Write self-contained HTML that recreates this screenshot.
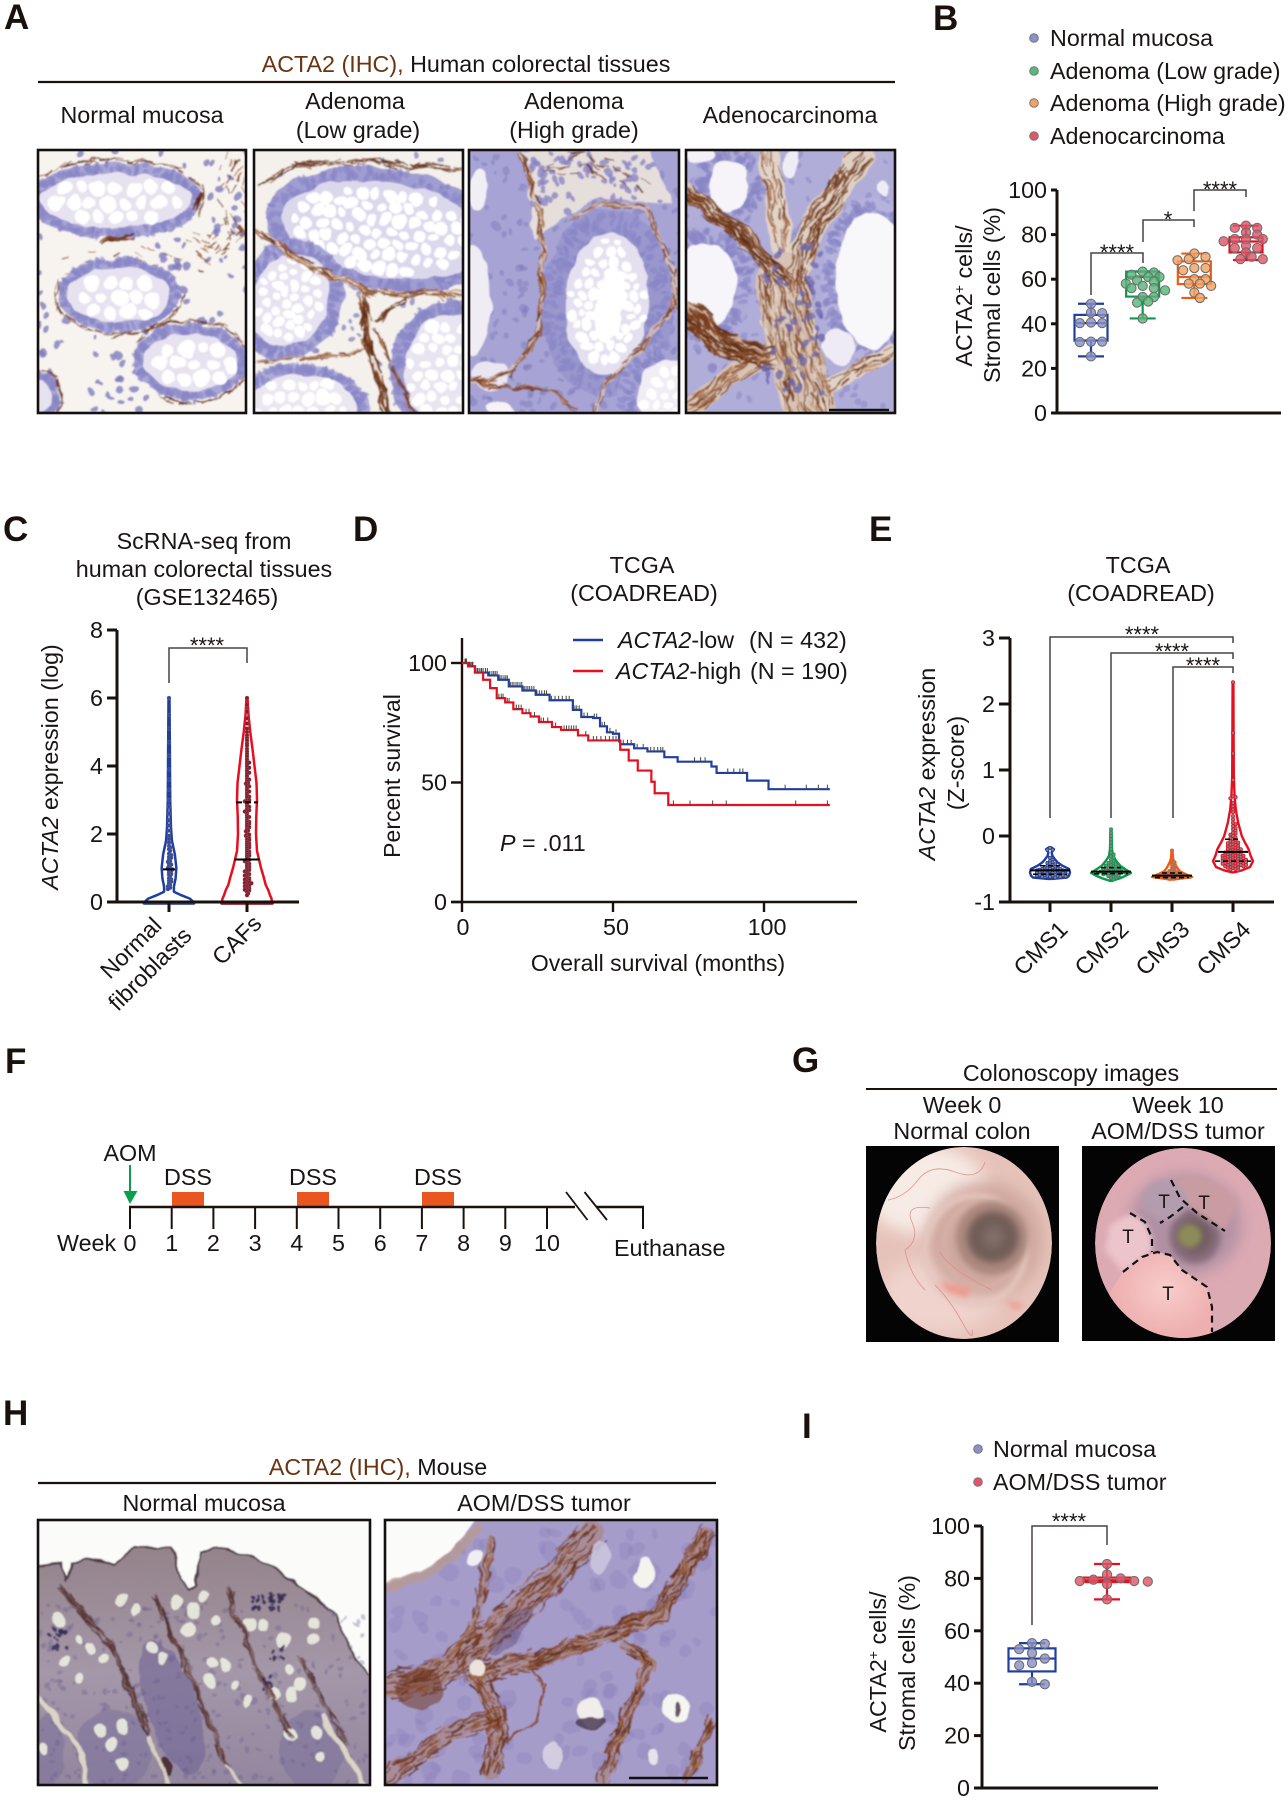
<!DOCTYPE html>
<html lang="en">
<head>
<meta charset="utf-8">
<title>ACTA2 expression figure</title>
<style>
html,body{margin:0;padding:0;background:#fff;}
svg{display:block;}
text{font-family:"Liberation Sans",Arial,sans-serif;font-size:23.3px;fill:#1a1414;}
.letter{font-size:35px;font-weight:bold;fill:#1a100c;}
.brown{fill:#6b3410;}
</style>
</head>
<body>
<svg id="fig" xmlns="http://www.w3.org/2000/svg" width="1288" height="1800" viewBox="0 0 1288 1800">
<defs>
  <filter id="organic" x="-5%" y="-5%" width="110%" height="110%">
    <feTurbulence type="fractalNoise" baseFrequency="0.05" numOctaves="2" seed="7" result="n"/>
    <feDisplacementMap in="SourceGraphic" in2="n" scale="9" xChannelSelector="R" yChannelSelector="G" result="d"/>
    <feGaussianBlur in="d" stdDeviation="0.75"/>
  </filter>
  <filter id="blur8" x="-30%" y="-30%" width="160%" height="160%"><feGaussianBlur stdDeviation="8"/></filter>
  <filter id="blur3" x="-30%" y="-30%" width="160%" height="160%"><feGaussianBlur stdDeviation="3"/></filter>
  <clipPath id="scopeL"><ellipse cx="964" cy="1243" rx="88" ry="96"/></clipPath>
  <clipPath id="scopeR"><ellipse cx="1183" cy="1243" rx="88" ry="95"/></clipPath>
  <radialGradient id="lumenL"><stop offset="0" stop-color="#86736c"/><stop offset=".7" stop-color="#6d5a54"/><stop offset="1" stop-color="#8d7069"/></radialGradient>
  <radialGradient id="lumenR"><stop offset="0" stop-color="#5d4a4e"/><stop offset="1" stop-color="#8f7483"/></radialGradient>
  <radialGradient id="tumorFill" cx=".55" cy=".4"><stop offset="0" stop-color="#f8cdca"/><stop offset="1" stop-color="#eeafb0"/></radialGradient>
  <linearGradient id="hTissue" x1="0" y1="0" x2="0" y2="1"><stop offset="0" stop-color="#94838a"/><stop offset=".5" stop-color="#a497a8"/><stop offset="1" stop-color="#91859f"/></linearGradient>
</defs>

<!-- panel letters -->
<text class="letter" x="4" y="29">A</text>
<text class="letter" x="933" y="30">B</text>
<text class="letter" x="3" y="541">C</text>
<text class="letter" x="353" y="541">D</text>
<text class="letter" x="869" y="541">E</text>
<text class="letter" x="5" y="1073">F</text>
<text class="letter" x="792" y="1072">G</text>
<text class="letter" x="3" y="1425">H</text>
<text class="letter" x="802" y="1438">I</text>

<!-- Panel A headings -->
<g>
  <text x="466" y="72" text-anchor="middle"><tspan class="brown">ACTA2 (IHC),</tspan> Human colorectal tissues</text>
  <line x1="38" x2="895" y1="82" y2="82" stroke="#1a100c" stroke-width="2.2"/>
  <text x="142" y="123" text-anchor="middle">Normal mucosa</text>
  <text x="355" y="109" text-anchor="middle">Adenoma</text>
  <text x="358" y="138" text-anchor="middle">(Low grade)</text>
  <text x="574" y="109" text-anchor="middle">Adenoma</text>
  <text x="574" y="138" text-anchor="middle">(High grade)</text>
  <text x="790" y="123" text-anchor="middle">Adenocarcinoma</text>
</g>

<!-- Panel B legend and labels -->
<g>
  <circle cx="1034" cy="38" r="4.3" fill="#8a91c9" stroke="#777"/>
  <text x="1050" y="46">Normal mucosa</text>
  <circle cx="1034" cy="71" r="4.3" fill="#57b879" stroke="#777"/>
  <text x="1050" y="79">Adenoma (Low grade)</text>
  <circle cx="1034" cy="103" r="4.3" fill="#f5a25e" stroke="#777"/>
  <text x="1050" y="111">Adenoma (High grade)</text>
  <circle cx="1034" cy="136" r="4.3" fill="#e25568" stroke="#777"/>
  <text x="1050" y="144">Adenocarcinoma</text>
</g>
<text transform="translate(972,296) rotate(-90)" text-anchor="middle">ACTA2<tspan font-size="14" dy="-8">+</tspan><tspan dy="8"> cells/</tspan></text>
<text transform="translate(1000,295) rotate(-90)" text-anchor="middle">Stromal cells (%)</text>
<g id="panelB"></g>

<!-- Panel C labels -->
<text x="204" y="549" text-anchor="middle">ScRNA-seq from</text>
<text x="204" y="577" text-anchor="middle">human colorectal tissues</text>
<text x="207" y="605" text-anchor="middle">(GSE132465)</text>
<text transform="translate(58,767) rotate(-90)" text-anchor="middle"><tspan font-style="italic">ACTA2</tspan> expression (log)</text>
<text transform="translate(163,927) rotate(-45)" text-anchor="end">Normal</text>
<text transform="translate(193,937) rotate(-45)" text-anchor="end">fibroblasts</text>
<text transform="translate(263,925) rotate(-45)" text-anchor="end">CAFs</text>
<g id="panelC"></g>

<!-- Panel D labels -->
<text x="642" y="573" text-anchor="middle">TCGA</text>
<text x="644" y="601" text-anchor="middle">(COADREAD)</text>
<text transform="translate(400,776) rotate(-90)" text-anchor="middle" style="font-size:23px">Percent survival</text>
<text x="658" y="971" text-anchor="middle" style="font-size:23px">Overall survival (months)</text>
<text x="500" y="851"><tspan font-style="italic">P</tspan> = .011</text>
<g>
  <line x1="573" x2="603" y1="640" y2="640" stroke="#1f3f9e" stroke-width="2.4"/>
  <text x="618" y="648"><tspan font-style="italic">ACTA2</tspan>-low</text>
  <text x="749" y="648">(N = 432)</text>
  <line x1="573" x2="603" y1="671" y2="671" stroke="#e60f1f" stroke-width="2.4"/>
  <text x="616" y="679"><tspan font-style="italic">ACTA2</tspan>-high</text>
  <text x="750" y="679">(N = 190)</text>
</g>
<g id="panelD"></g>

<!-- Panel E labels -->
<text x="1138" y="573" text-anchor="middle">TCGA</text>
<text x="1141" y="601" text-anchor="middle">(COADREAD)</text>
<text transform="translate(935,764) rotate(-90)" text-anchor="middle"><tspan font-style="italic">ACTA2</tspan> expression</text>
<text transform="translate(964,763) rotate(-90)" text-anchor="middle">(Z-score)</text>
<g id="panelE"></g>

<!-- Panel F timeline -->
<g>
  <text x="130" y="1161" text-anchor="middle">AOM</text>
  <line x1="130" x2="130" y1="1165" y2="1194" stroke="#0b9e4b" stroke-width="2"/>
  <polygon points="123.5,1191 137.5,1191 130,1204" fill="#0b9e4b"/>
  <rect x="172" y="1192" width="32" height="14" fill="#e9561f"/>
  <rect x="297" y="1192" width="32" height="14" fill="#e9561f"/>
  <rect x="422" y="1192" width="32" height="14" fill="#e9561f"/>
  <text x="188" y="1185" text-anchor="middle">DSS</text>
  <text x="313" y="1185" text-anchor="middle">DSS</text>
  <text x="438" y="1185" text-anchor="middle">DSS</text>
  <line x1="129" x2="575" y1="1207" y2="1207" stroke="#1a100c" stroke-width="2.4"/>
  <line x1="596" x2="644" y1="1207" y2="1207" stroke="#1a100c" stroke-width="2.4"/>
  <line x1="566" x2="587.5" y1="1192" y2="1220" stroke="#1a100c" stroke-width="1.8"/>
  <line x1="584.5" x2="607" y1="1192" y2="1220" stroke="#1a100c" stroke-width="1.8"/>
  <line x1="643" x2="643" y1="1207" y2="1229" stroke="#1a100c" stroke-width="2"/>
  <text x="57" y="1251">Week</text>
  <text x="614" y="1256">Euthanase</text>
  <g id="weeks"></g>
</g>

<!-- Panel G headings -->
<text x="1071" y="1081" text-anchor="middle">Colonoscopy images</text>
<line x1="866" x2="1277" y1="1089" y2="1089" stroke="#1a100c" stroke-width="2"/>
<text x="962" y="1113" text-anchor="middle">Week 0</text>
<text x="962" y="1139" text-anchor="middle">Normal colon</text>
<text x="1178" y="1113" text-anchor="middle">Week 10</text>
<text x="1178" y="1139" text-anchor="middle">AOM/DSS tumor</text>

<!-- Colonoscopy left -->
<g>
  <rect x="866" y="1146" width="193" height="196" fill="#050404"/>
  <g clip-path="url(#scopeL)">
    <ellipse cx="964" cy="1243" rx="88" ry="96" fill="#e6c3ba"/>
    <ellipse cx="925" cy="1190" rx="62" ry="44" fill="#f7ebe6" filter="url(#blur8)"/>
    <ellipse cx="940" cy="1295" rx="60" ry="38" fill="#efd3cc" filter="url(#blur8)"/>
    <ellipse cx="985" cy="1240" rx="58" ry="58" fill="#cfa79e" filter="url(#blur8)"/>
    <ellipse cx="975" cy="1250" rx="50" ry="54" fill="none" stroke="#e6c8c0" stroke-width="6" filter="url(#blur3)"/>
    <ellipse cx="982" cy="1245" rx="38" ry="42" fill="none" stroke="#d7b2a8" stroke-width="5" filter="url(#blur3)"/>
    <ellipse cx="992" cy="1238" rx="36" ry="37" fill="#ab887e" filter="url(#blur3)"/>
    <circle cx="993" cy="1237" r="27" fill="url(#lumenL)" filter="url(#blur3)"/>
    <g fill="none" stroke="#dc8f8a" stroke-width="0.9" opacity=".85">
      <path d="M888 1200 Q905 1197 918 1180 T955 1172 T985 1162"/>
      <path d="M905 1250 Q920 1240 912 1222 T930 1208"/>
      <path d="M905 1250 Q910 1275 925 1290"/>
      <path d="M935 1285 Q950 1300 962 1322 T972 1330"/>
      <path d="M940 1252 Q950 1270 992 1290"/>
    </g>
    <path d="M938 1282 L972 1288 L966 1298 L948 1292 Z" fill="#ee9a90" filter="url(#blur3)"/>
    <path d="M1005 1300 L1025 1305 L1015 1310 Z" fill="#ee9a90" filter="url(#blur3)"/>
  </g>
</g>

<!-- Colonoscopy right -->
<g>
  <rect x="1082" y="1146" width="193" height="195" fill="#050404"/>
  <g clip-path="url(#scopeR)">
    <ellipse cx="1183" cy="1243" rx="88" ry="95" fill="#dcaab3"/>
    <ellipse cx="1185" cy="1225" rx="56" ry="50" fill="#b290a4" filter="url(#blur8)"/>
    <ellipse cx="1195" cy="1236" rx="26" ry="28" fill="url(#lumenR)" filter="url(#blur3)"/>
    <path d="M1171 1180 L1180 1198 L1197 1213 L1225 1231 L1240 1200 L1200 1175 Z" fill="#c99ca2" filter="url(#blur3)"/>
    <ellipse cx="1164" cy="1200" rx="22" ry="20" fill="#b39cad" filter="url(#blur3)"/>
    <ellipse cx="1190" cy="1236" rx="12" ry="12" fill="#8d8c58" filter="url(#blur3)"/>
    <path d="M1130 1213 L1145 1222 L1152 1238 L1152 1252 L1123 1272 L1105 1250 L1110 1225 Z" fill="#ecc4cb" filter="url(#blur3)"/>
    <path d="M1123 1272 L1142 1257 L1157 1252 L1170 1255 L1182 1270 L1207 1287 L1212 1307 L1212 1340 L1175 1345 L1130 1325 L1108 1295 Z" fill="url(#tumorFill)"/>
  </g>
  <g fill="none" stroke="#111" stroke-width="2.2" stroke-dasharray="7 5">
    <path d="M1171 1180 L1180 1198 L1197 1213 L1225 1231"/>
    <path d="M1183 1207 L1170 1217 L1160 1223"/>
    <path d="M1130 1213 L1145 1222 L1152 1238 L1152 1252"/>
    <path d="M1123 1272 L1142 1257 L1157 1252 L1170 1255 L1182 1270 L1207 1287 L1212 1307 L1212 1332"/>
  </g>
  <text x="1164" y="1208" text-anchor="middle" style="font-size:19px">T</text>
  <text x="1204" y="1209" text-anchor="middle" style="font-size:19px">T</text>
  <text x="1128" y="1243" text-anchor="middle" style="font-size:19px">T</text>
  <text x="1168" y="1300" text-anchor="middle" style="font-size:19px">T</text>
</g>

<!-- Panel H headings -->
<text x="378" y="1475" text-anchor="middle"><tspan class="brown">ACTA2 (IHC),</tspan> Mouse</text>
<line x1="38" x2="716" y1="1483" y2="1483" stroke="#1a100c" stroke-width="2.2"/>
<text x="204" y="1511" text-anchor="middle">Normal mucosa</text>
<text x="544" y="1511" text-anchor="middle">AOM/DSS tumor</text>

<!-- Panel I legend and labels -->
<g>
  <circle cx="978" cy="1449" r="4.3" fill="#8a91c9" stroke="#777"/>
  <text x="993" y="1457">Normal mucosa</text>
  <circle cx="978" cy="1482" r="4.3" fill="#e25568" stroke="#777"/>
  <text x="993" y="1490">AOM/DSS tumor</text>
</g>
<text transform="translate(886,1662) rotate(-90)" text-anchor="middle">ACTA2<tspan font-size="14" dy="-8">+</tspan><tspan dy="8"> cells/</tspan></text>
<text transform="translate(915,1663) rotate(-90)" text-anchor="middle">Stromal cells (%)</text>
<g id="panelI"></g>

<g id="histology"></g>
</svg>

<script>
/* ---------- Panel B data ---------- */
const bGroups = ['Normal mucosa','Adenoma low','Adenoma high','Adenocarcinoma'];
const bTicks = [0,20,40,60,80,100];
const bTickLabels = ['0','20','40','60','80','100'];
const bWhiskerLow = [25.4,42.4,51.6,68.6];
const bQ1 = [32.5,52.2,57.8,72];
const bMedian = [40.3,61,61,76.9];
const bQ3 = [44,63.4,68,78.8];
const bWhiskerHigh = [49,63.5,71.5,84];
const bPointsNormal = [49,44.8,45,40.3,40.3,40.6,32,32,31.8,25.4];
const bPointsLow = [63.4,63,62,61,61,59.5,59,58,57,56,56,55,52,52,50,49.5,42.4];
const bPointsHigh = [71.5,70,69,68.5,65,65,64,60,60,58,58,57,54,51.6];
const bPointsCarcinoma = [84,83,83,81,80,78,78,78,77,75,74,74,72,70,69,69];

/* ---------- Panel C data ---------- */
const cTicks = [0,2,4,6,8];
const cTickLabels = ['0','2','4','6','8'];
const cFibroLevels = [0,0.1,0.2,0.3,0.45,0.7,1,1.4,1.8,2.2,3,4,5,6];
const cFibroDensity = [1,0.85,0.5,0.2,0.2,0.27,0.3,0.24,0.12,0.08,0.05,0.04,0.03,0.02];
const cCafLevels = [0,0.1,0.2,0.35,0.5,0.75,1,1.5,2,2.5,3,3.5,4,4.5,5,5.5,6];
const cCafDensity = [1,0.98,0.92,0.85,0.75,0.66,0.56,0.4,0.36,0.37,0.4,0.38,0.3,0.22,0.13,0.06,0.02];
const cFibroPoints = [6,5.5,5.1,4.7,4.3,3.9,3.6,3.3,3,2.8,2.6,2.4,2.25,2.1,1.95,1.85,1.75,1.65,1.6,1.55,1.5,1.42,1.38,1.32,1.3,1.25,1.2,1.18,1.12,1.1,1.05,1,1,0.96,0.92,0.9,0.86,0.82,0.8,0.75,0.7,0.66,0.62,0.6,0.55,0.5,0.46,0.42,0.38];
const cCafPoints = [6,5.8,5.6,5.4,5.25,5.1,5,4.9,4.82,4.75,4.66,4.6,4.5,4.42,4.35,4.28,4.2,4.12,4.05,3.98,3.9,3.84,3.76,3.7,3.62,3.55,3.48,3.42,3.35,3.28,3.2,3.14,3.08,3,2.94,2.88,2.8,2.74,2.68,2.6,2.54,2.48,2.4,2.34,2.28,2.2,2.15,2.08,2,1.95,1.88,1.82,1.76,1.7,1.64,1.58,1.52,1.46,1.4,1.34,1.28,1.22,1.16,1.1,1.04,0.98,0.92,0.86,0.8,0.74,0.7,0.64,0.6,0.56,0.5,0.46,0.4,0.36,0.3,0.25,0.2,4.1,3.95,3.8,3.6,3.4,3.25,3.1,2.96,2.82,2.66,2.5,2.36,2.22,2.1,1.98,1.84,1.72,1.6,1.48,1.36,1.24,1.12,1,0.9,0.78,0.66,0.55,0.44,0.34,3.5,3,2.7,2.3,1.9,1.66,1.42,1.2,1.06,0.94,0.82,0.68,0.58,0.48,0.38];
const cMedians = [0.96,1.25];
const cUpperQuartiles = [null,2.93];
const cZeroCounts = [14,14];

/* ---------- Panel D data ---------- */
const dYTicks = [0,50,100];
const dYLabels = ['0','50','100'];
const dXTicks = [0,50,100];
const dXLabels = ['0','50','100'];
const dLowTime = [0,2,4.3,8.7,12,15.5,20,24.4,29,36.7,39.5,43.4,45.7,48,50,52,52.4,57,61.4,67,71.4,82.6,84.3,94.4,101.5];
const dLowSurvival = [100,98.6,96,94.8,93,90.2,88.5,86.7,84.4,80.4,77.4,77,73.5,71,70.4,67.2,66,64.3,63,60.6,58.7,56.7,54,50.8,47.2];
const dHighTime = [0,2,4.3,7,9.3,11.5,14.3,17,20,22.7,25.5,29.8,32.8,38.4,41.8,52.4,55.2,58.2,62.7,63.8,68.3];
const dHighSurvival = [100,98.6,96,93,89.5,85.3,83.5,80.7,79,77.6,75.3,73.2,72,69.7,67.6,63.7,59.2,55,50.3,45.5,40.6];
const dEndTime = 121.8;
const dLowCensor = [1,1.5,2.5,3,3.6,5,5.7,6.3,7,7.8,8.4,9.2,9.9,10.5,11,11.6,12.6,13.2,13.9,14.5,15,16,16.6,17.2,17.9,18.5,19.2,19.8,20.6,21.2,21.8,22.4,23.1,23.8,24.8,25.6,26.4,27.3,28,29.6,30.8,32,33.2,34.5,35.5,37.4,38,38.8,40.4,41.5,43.8,44.6,46.4,47.2,49,51,53.4,54.8,56,58,60,62.5,63.6,64.8,65.8,66.5,77,79,80.5,88,90,92,93,107,114,118,121];
const dHighCensor = [1.2,2.6,3.4,5.2,6.5,12.2,13,13.6,15,15.6,18,18.8,19.6,21.2,22.2,24,26.2,27,28.4,31,33.8,34.6,35.4,36.2,37,37.8,41,43.5,44.6,46,47.5,48.8,50,51,70,75.5,83,87.5,110.5,121];

/* ---------- Panel E data ---------- */
const eCategories = ['CMS1','CMS2','CMS3','CMS4'];
const eTicks = [-1,0,1,2,3];
const eTickLabels = ['-1','0','1','2','3'];
const eLevels1 = [-0.65,-0.63,-0.6,-0.55,-0.5,-0.45,-0.4,-0.35,-0.3,-0.25,-0.2,-0.17];
const eDensity1 = [0.1,0.85,0.95,1,0.95,0.62,0.38,0.24,0.12,0.08,0.2,0.05];
const eLevels2 = [-0.68,-0.64,-0.6,-0.56,-0.5,-0.45,-0.4,-0.35,-0.3,-0.2,-0.1,0.1];
const eDensity2 = [0.05,0.45,0.75,1,0.7,0.46,0.32,0.2,0.1,0.05,0.04,0.02];
const eLevels3 = [-0.66,-0.64,-0.62,-0.58,-0.54,-0.5,-0.45,-0.4,-0.35,-0.3,-0.22];
const eDensity3 = [0.08,0.55,1,0.7,0.42,0.3,0.2,0.12,0.06,0.04,0.02];
const eLevels4 = [-0.55,-0.52,-0.47,-0.38,-0.3,-0.2,-0.1,0,0.1,0.2,0.4,0.6,0.9,1.5,2.33];
const eDensity4 = [0.05,0.45,0.85,1,0.88,0.78,0.6,0.44,0.35,0.26,0.14,0.08,0.04,0.03,0.02];
const ePoints1 = [-0.18,-0.21,-0.21,-0.33,-0.36,-0.38,-0.4,-0.41,-0.42,-0.43,-0.44,-0.45,-0.46,-0.47,-0.47,-0.48,-0.49,-0.49,-0.5,-0.5,-0.51,-0.51,-0.52,-0.52,-0.53,-0.53,-0.54,-0.54,-0.55,-0.55,-0.56,-0.56,-0.57,-0.57,-0.58,-0.58,-0.59,-0.59,-0.6,-0.6,-0.61,-0.61,-0.62,-0.62,-0.63,-0.5,-0.52,-0.54,-0.56,-0.58,-0.6,-0.62,-0.51,-0.53,-0.55,-0.57,-0.59,-0.61];
const ePoints2 = [0.1,0.05,0,-0.05,-0.1,-0.15,-0.2,-0.25,-0.28,-0.31,-0.33,-0.36,-0.38,-0.4,-0.41,-0.42,-0.43,-0.44,-0.45,-0.45,-0.46,-0.47,-0.48,-0.48,-0.49,-0.49,-0.5,-0.5,-0.51,-0.51,-0.52,-0.52,-0.53,-0.53,-0.54,-0.54,-0.54,-0.55,-0.55,-0.55,-0.56,-0.56,-0.56,-0.57,-0.57,-0.57,-0.58,-0.58,-0.59,-0.6,-0.6,-0.61,-0.62,-0.63,-0.64,-0.66];
const ePoints3 = [-0.22,-0.38,-0.4,-0.43,-0.46,-0.48,-0.5,-0.52,-0.53,-0.54,-0.55,-0.56,-0.56,-0.57,-0.58,-0.58,-0.59,-0.59,-0.59,-0.6,-0.6,-0.6,-0.61,-0.61,-0.61,-0.61,-0.62,-0.62,-0.62,-0.62,-0.63,-0.63,-0.63,-0.64,-0.64,-0.65];
const ePoints4 = [2.33,1.56,1.25,0.85,0.6,0.59,0.57,0.5,0.45,0.4,0.36,0.3,0.25,0.2,0.18,0.15,0.12,0.1,0.08,0.05,0.04,0.02,0,-0.02,-0.03,-0.05,-0.06,-0.08,-0.09,-0.1,-0.11,-0.13,-0.14,-0.15,-0.16,-0.17,-0.18,-0.19,-0.2,-0.2,-0.21,-0.22,-0.23,-0.24,-0.24,-0.25,-0.26,-0.27,-0.27,-0.28,-0.29,-0.29,-0.3,-0.3,-0.31,-0.31,-0.32,-0.33,-0.33,-0.34,-0.34,-0.35,-0.35,-0.36,-0.36,-0.37,-0.37,-0.38,-0.38,-0.39,-0.39,-0.4,-0.4,-0.41,-0.41,-0.42,-0.42,-0.43,-0.43,-0.44,-0.44,-0.45,-0.46,-0.46,-0.47,-0.48,-0.49,-0.5,-0.51,-0.52,-0.1,-0.14,-0.18,-0.22,-0.25,-0.28,-0.3,-0.32,-0.34,-0.36,-0.38,-0.4,-0.42,-0.44,-0.46,-0.48];
const eMedians = [-0.52,-0.54,-0.6,-0.24];
const eLowerQuartiles = [-0.58,-0.57,-0.63,-0.38];
const eUpperQuartiles = [-0.45,-0.48,-0.56,-0.05];

/* ---------- Panel F data ---------- */
const fWeeks = ['0','1','2','3','4','5','6','7','8','9','10'];

/* ---------- Panel I data ---------- */
const iTicks = [0,20,40,60,80,100];
const iTickLabels = ['0','20','40','60','80','100'];
const iWhiskerLow = [39.6,72];
const iQ1 = [44.5,78.6];
const iMedian = [49.4,79.3];
const iQ3 = [53.3,80.3];
const iWhiskerHigh = [55.3,85.5];
const iPointsNormal = [55.3,55,53,51.5,49.4,47.7,46.8,40.5,39.6];
const iPointsTumor = [85.5,81.5,80,79.5,79,79,78.8,77.8,72];

/* ---------- helpers ---------- */
const NS = 'http://www.w3.org/2000/svg';
function mk(tag, parent, attrs) {
  const e = document.createElementNS(NS, tag);
  for (const k in attrs) e.setAttribute(k, attrs[k]);
  parent.appendChild(e);
  return e;
}
function linear(d0, d1, r0, r1) { return v => r0 + (v - d0) * (r1 - r0) / (d1 - d0); }
const AXIS = '#1a100c';

function drawAxes(g, o) {
  const yLine = mk('line', g, {x1:o.x0, x2:o.x0, y1:o.yTop, y2:o.yBottom + 1.5, stroke:AXIS, 'stroke-width':o.sw || 3});
  
  
  const xLine = mk('line', g, {x1:o.xLeft, x2:o.x1, y1:o.yBottom, y2:o.yBottom, stroke:AXIS, 'stroke-width':o.sw || 3});
  
  
  o.ticks.forEach((t, i) => {
    const tick = mk('line', g, {x1:o.tickX, x2:o.x0, y1:o.y(t), y2:o.y(t), stroke:AXIS, 'stroke-width':o.sw || 3});
    
    
    const lab = mk('text', g, {x:o.tickX - 4, y:o.y(t) + 8, 'text-anchor':'end'});
    
    
    lab.textContent = o.labels[i];
  });
}
function bracket(g, xa, ya, yTop, xb, yb) {
  const p = mk('path', g, {d:`M${xa} ${ya} V${yTop} H${xb} V${yb}`, fill:'none', stroke:'#4a4040', 'stroke-width':1.5});
  
  
}
function stars(g, x, y, s) {
  const t = mk('text', g, {x:x, y:y + 13, 'text-anchor':'middle', style:'font-size:22px'});
  
  
  t.textContent = s;
}
function swarm(vals, y, minDist, step) {
  const placed = [];
  vals.slice().sort((a, b) => b - a).forEach(v => {
    const py = y(v);
    let k = 0, done = false;
    while (!done) {
      const cands = k === 0 ? [0] : [k * step, -k * step];
      for (const c of cands) {
        if (placed.every(p => Math.hypot(p.x - c, p.y - py) >= minDist)) {
          placed.push({x:c, y:py});
          done = true;
          break;
        }
      }
      k++;
    }
  });
  return placed;
}
function boxPlot(g, xc, w, capW, y, low, q1, med, q3, high, color, pts, fill, r, minDist, step) {
  const whisker = mk('line', g, {x1:xc, x2:xc, y1:y(low), y2:y(high), stroke:color, 'stroke-width':2.2});
  
  
  const capLow = mk('line', g, {x1:xc - capW, x2:xc + capW, y1:y(low), y2:y(low), stroke:color, 'stroke-width':2.2});
  
  
  const capHigh = mk('line', g, {x1:xc - capW, x2:xc + capW, y1:y(high), y2:y(high), stroke:color, 'stroke-width':2.2});
  
  
  const box = mk('rect', g, {x:xc - w / 2, y:y(q3), width:w, height:y(q1) - y(q3), fill:'#fff', stroke:color, 'stroke-width':2.2});
  
  
  const m = mk('line', g, {x1:xc - w / 2, x2:xc + w / 2, y1:y(med), y2:y(med), stroke:color, 'stroke-width':2.2});
  
  
  swarm(pts, y, minDist, step).forEach(p => {
    const c = mk('circle', g, {cx:xc + p.x, cy:p.y, r:r, fill:fill, 'fill-opacity':0.82, stroke:'#6f6f6f', 'stroke-width':1.1});
    
    
  });
}
function violinPath(xc, y, levels, dens, maxHalf) {
  const right = levels.map((l, i) => `${xc + dens[i] * maxHalf} ${y(l)}`);
  const left = levels.map((l, i) => `${xc - dens[i] * maxHalf} ${y(l)}`).reverse();
  return 'M' + right.join(' L') + ' L' + left.join(' L') + ' Z';
}
function hline(g, xc, half, yy, color, sw, dash, name) {
  const l = mk('line', g, {x1:xc - half, x2:xc + half, y1:yy, y2:yy, stroke:color, 'stroke-width':sw});
  if (dash) l.setAttribute('stroke-dasharray', dash);
  
  
}
function xTick(g, x, y0, y1, label, w) {
  const t = mk('line', g, {x1:x, x2:x, y1:y0, y2:y1, stroke:AXIS, 'stroke-width':w || 3});
  
  
}

/* ---------- Panel B ---------- */
(function () {
  const g = document.getElementById('panelB');
  const y = linear(0, 100, 413, 190);
  const xs = linear(0, 3, 1091, 1246);
  drawAxes(g, {x0:1057, x1:1281, xLeft:1051, yTop:190, yBottom:413, tickX:1051, y:y, ticks:bTicks, labels:bTickLabels});
  const cols = ['#1f3f9e','#0a9a4a','#f05a14','#e60f1f'];
  const fills = ['#8a91c9','#57b879','#f5a25e','#e25568'];
  const sets = [bPointsNormal,bPointsLow,bPointsHigh,bPointsCarcinoma];
  bGroups.forEach((name, i) => {
    boxPlot(g, xs(i), 33, 13, y, bWhiskerLow[i], bQ1[i], bMedian[i], bQ3[i], bWhiskerHigh[i], cols[i], sets[i], fills[i], 4.6, 6.6, 5.6);
  });
  bracket(g, 1091, 295, 253, 1143, 263);
  stars(g, 1117, 247, '****');
  bracket(g, 1143, 242, 220, 1194, 227);
  stars(g, 1168, 214, '*');
  bracket(g, 1194, 211, 190, 1246, 197);
  stars(g, 1220, 184, '****');
})();

/* ---------- Panel C ---------- */
(function () {
  const g = document.getElementById('panelC');
  const y = linear(0, 8, 902, 630);
  const xs = [169, 247];
  const cols = ['#1f3f9e','#e60f1f'];
  const dotFill = ['#33499f','#8d1a2a'];
  const sets = [cFibroPoints,cCafPoints];
  [0,1].forEach(i => {
    const levels = i ? cCafLevels : cFibroLevels;
    const dens = i ? cCafDensity : cFibroDensity;
    const half = i ? 25 : 24.5;
    const v = mk('path', g, {d:violinPath(xs[i], y, levels, dens, half), fill:'none', stroke:cols[i], 'stroke-width':2.5, 'stroke-linejoin':'round'});
    
    
    swarm(sets[i], y, 1.8, 1.1).forEach(p => {
      const c = mk('circle', g, {cx:xs[i] + p.x, cy:p.y, r:2, fill:dotFill[i], stroke:'#777', 'stroke-width':0.3});
      
      
    });
    for (let k = -cZeroCounts[i]; k <= cZeroCounts[i]; k++) {
      const c = mk('circle', g, {cx:xs[i] + k * half / cZeroCounts[i], cy:y(0) + 1, r:1.9, fill:dotFill[i]});
      
      
    }
    hline(g, xs[i], i ? 12.5 : 6, y(cMedians[i]), '#000', 2, null, 'violin-median');
    if (cUpperQuartiles[i] !== null) hline(g, xs[i], 11, y(cUpperQuartiles[i]), '#000', 2, '6 3', 'violin-quartile');
    xTick(g, xs[i], 902, 912);
  });
  drawAxes(g, {x0:117, x1:299, xLeft:107, yTop:630, yBottom:902, tickX:107, y:y, ticks:cTicks, labels:cTickLabels});
  bracket(g, 169, 683, 648, 247, 663);
  stars(g, 207, 640, '****');
})();

/* ---------- Panel D ---------- */
(function () {
  const g = document.getElementById('panelD');
  const y = linear(0, 100, 902, 663);
  const x = linear(0, 100, 462, 764);
  drawAxes(g, {x0:462, x1:857, xLeft:451, yTop:638, yBottom:902, tickX:451, y:y, ticks:dYTicks, labels:dYLabels, sw:2.4});
  dXTicks.forEach((t, i) => {
    xTick(g, x(t), 902, 912, null, 2.4);
    const lab = mk('text', g, {x:x(t) + (i ? 3 : 1), y:935, 'text-anchor':'middle'});
    
    
    lab.textContent = dXLabels[i];
  });
  function stepValue(ts, ss, t) {
    let s = ss[0];
    for (let i = 0; i < ts.length; i++) if (ts[i] <= t) s = ss[i];
    return s;
  }
  function curve(ts, ss, color, name) {
    let d = `M${x(ts[0])} ${y(ss[0])}`;
    for (let i = 1; i < ts.length; i++) d += ` H${x(ts[i])} V${y(ss[i])}`;
    d += ` H${x(dEndTime)}`;
    const p = mk('path', g, {d:d, fill:'none', stroke:color, 'stroke-width':2.2});
    
    
  }
  function censor(ts, ss, arr) {
    arr.forEach(t => {
      const s = stepValue(ts, ss, t);
      const l = mk('line', g, {x1:x(t), x2:x(t), y1:y(s) - 4.5, y2:y(s), stroke:'#444', 'stroke-width':1});
      
      
    });
  }
  curve(dLowTime, dLowSurvival, '#1f3f9e', 'survival-curve-low');
  curve(dHighTime, dHighSurvival, '#e60f1f', 'survival-curve-high');
  censor(dLowTime, dLowSurvival, dLowCensor);
  censor(dHighTime, dHighSurvival, dHighCensor);
})();

/* ---------- Panel E ---------- */
(function () {
  const g = document.getElementById('panelE');
  const y = linear(-1, 3, 902, 638);
  const x = linear(0, 3, 1050, 1233);
  const cols = ['#1f3f9e','#0a9a4a','#f05a14','#e60f1f'];
  const levels = [eLevels1,eLevels2,eLevels3,eLevels4];
  const dens = [eDensity1,eDensity2,eDensity3,eDensity4];
  const sets = [ePoints1,ePoints2,ePoints3,ePoints4];
  eCategories.forEach((name, i) => {
    const xc = x(i);
    const v = mk('path', g, {d:violinPath(xc, y, levels[i], dens[i], 20), fill:'#fff', stroke:cols[i], 'stroke-width':2.4, 'stroke-linejoin':'round'});
    
    
    swarm(sets[i], y, 2.4, 1.3).forEach(p => {
      const c = mk('circle', g, {cx:xc + p.x, cy:p.y, r:1.6, fill:'#8c8288', stroke:cols[i], 'stroke-width':0.8});
      
      
    });
    hline(g, xc, i === 3 ? 15 : 20, y(eMedians[i]), '#000', 2, null, 'violin-median');
    hline(g, xc, i === 3 ? 18 : 17, y(eLowerQuartiles[i]), '#000', 1.5, '5 3', 'violin-quartile-low');
    hline(g, xc, i === 3 ? 8 : 10, y(eUpperQuartiles[i]), '#000', 1.5, '5 3', 'violin-quartile-high');
    xTick(g, xc, 902, 912);
    const lab = mk('text', g, {transform:`translate(${xc + 19},${931}) rotate(-45)`, 'text-anchor':'end'});
    
    
    lab.textContent = name;
  });
  drawAxes(g, {x0:1010, x1:1274, xLeft:999, yTop:638, yBottom:902, tickX:999, y:y, ticks:eTicks, labels:eTickLabels});
  bracket(g, 1050, 818, 637, 1233, 643);
  stars(g, 1142, 629, '****');
  bracket(g, 1111, 818, 653, 1233, 659);
  stars(g, 1172, 646, '****');
  bracket(g, 1173, 818, 667, 1233, 673);
  stars(g, 1203, 660, '****');
})();

/* ---------- Panel F ---------- */
(function () {
  const g = document.getElementById('weeks');
  const x = linear(0, 10, 130, 547);
  fWeeks.forEach((w, i) => {
    const t = mk('line', g, {x1:x(i), x2:x(i), y1:1207, y2:1229, stroke:AXIS, 'stroke-width':2});
    
    
    const lab = mk('text', g, {x:x(i), y:1251, 'text-anchor':'middle'});
    
    
    lab.textContent = w;
  });
})();

/* ---------- Panel I ---------- */
(function () {
  const g = document.getElementById('panelI');
  const y = linear(0, 100, 1788, 1526);
  const xs = [1032, 1107];
  drawAxes(g, {x0:982, x1:1158, xLeft:974, yTop:1526, yBottom:1788, tickX:974, y:y, ticks:iTicks, labels:iTickLabels});
  boxPlot(g, xs[0], 47, 13, y, iWhiskerLow[0], iQ1[0], iMedian[0], iQ3[0], iWhiskerHigh[0], '#1f3f9e', iPointsNormal, '#8a91c9', 4.6, 9, 6.4);
  boxPlot(g, xs[1], 47, 13, y, iWhiskerLow[1], iQ1[1], iMedian[1], iQ3[1], iWhiskerHigh[1], '#e60f1f', iPointsTumor, '#e25568', 4.6, 9, 6.8);
  bracket(g, 1032, 1625, 1526, 1107, 1545);
  stars(g, 1069, 1516, '****');
})();

/* ---------- Histology illustrations (not chart data) ---------- */
(function () {
  let seed = 12345;
  function R() { seed = (seed * 1664525 + 1013904223) % 4294967296; return seed / 4294967296; }
  function ell(cx, cy, rx, ry, fill, op, rot) {
    return `<ellipse cx="${cx.toFixed(1)}" cy="${cy.toFixed(1)}" rx="${rx.toFixed(1)}" ry="${ry.toFixed(1)}" fill="${fill}"` +
      (op !== undefined ? ` opacity="${op}"` : '') +
      (rot ? ` transform="rotate(${rot.toFixed(0)} ${cx.toFixed(1)} ${cy.toFixed(1)})"` : '') + '/>';
  }
  function scatter(n, x0, y0, x1, y1, col, rmin, rmax, op) {
    let s = '';
    for (let i = 0; i < n; i++) {
      const r = rmin + R() * (rmax - rmin);
      s += ell(x0 + R() * (x1 - x0), y0 + R() * (y1 - y0), r, r * (0.55 + R() * 0.5), col, op, R() * 180);
    }
    return s;
  }
  function crypt(cx, cy, rx, ry, rot, ring, opt) {
    opt = opt || {};
    const ringCol = opt.ring || '#a9a6d6', inner = opt.inner || '#e7e2ef', nuc = opt.nuc || '#8985c6';
    const gob = opt.gob === undefined ? 14 : opt.gob, white = opt.white || '#ffffff';
    let s = `<g transform="translate(${cx} ${cy}) rotate(${rot})">`;
    s += ell(0, 0, rx, ry, ringCol);
    const n = Math.round((rx + ry) * 6.28 / 5);
    for (let i = 0; i < n * 1.5; i++) {
      const a = R() * 6.283, f = 1 - (0.08 + 0.8 * R()) * ring / Math.min(rx, ry);
      s += ell(Math.cos(a) * rx * f, Math.sin(a) * ry * f, 2.4, 3.8, nuc, 0.6, a * 57.3 + 90);
    }
    const ix = rx - ring, iy = ry - ring;
    s += ell(0, 0, ix, iy, inner);
    if (gob > 0) {
      for (let v = -iy; v <= iy; v += gob * 0.87) {
        for (let u = -ix; u <= ix; u += gob) {
          const uu = u + (Math.round(v / (gob * 0.87)) % 2 ? gob / 2 : 0);
          if ((uu * uu) / (ix * ix) + (v * v) / (iy * iy) < 0.8) {
            const gr = gob * (0.32 + R() * 0.18);
            s += ell(uu + (R() - 0.5) * 3, v + (R() - 0.5) * 3, gr, gr * (0.85 + R() * 0.2), white);
          }
        }
      }
    }
    return s + '</g>';
  }
  function fibers(pts, w, density, cols, lenMin, lenMax, swMin, swMax) {
    let s = '';
    for (let i = 1; i < pts.length; i++) {
      const a = pts[i - 1], b = pts[i];
      const dx = b[0] - a[0], dy = b[1] - a[1], L = Math.hypot(dx, dy);
      const ang = Math.atan2(dy, dx);
      const n = Math.round(L * density);
      for (let k = 0; k < n; k++) {
        const t = R(), off = (R() - 0.5) * w;
        const px = a[0] + dx * t - Math.sin(ang) * off, py = a[1] + dy * t + Math.cos(ang) * off;
        const th = ang + (R() - 0.5) * 0.55, len = lenMin + R() * (lenMax - lenMin);
        const ddx = Math.cos(th) * len / 2, ddy = Math.sin(th) * len / 2;
        const col = cols[Math.floor(R() * cols.length)];
        const sw = swMin + R() * (swMax - swMin);
        s += `<line x1="${(px - ddx).toFixed(1)}" y1="${(py - ddy).toFixed(1)}" x2="${(px + ddx).toFixed(1)}" y2="${(py + ddy).toFixed(1)}" stroke="${col}" stroke-width="${sw.toFixed(1)}" stroke-linecap="round" opacity="${(0.55 + R() * 0.35).toFixed(2)}"/>`;
      }
    }
    return s;
  }
  function band(pts, w, col, op) {
    const d = pts.map((p, i) => (i ? 'L' : 'M') + p[0] + ' ' + p[1]).join(' ');
    return `<path d="${d}" fill="none" stroke="${col}" stroke-width="${w}" stroke-linejoin="round" stroke-linecap="round"${op !== undefined ? ` opacity="${op}"` : ''}/>`;
  }
  function poly(pts, fill, op) {
    return `<polygon points="${pts.map(p => p.join(',')).join(' ')}" fill="${fill}"${op !== undefined ? ` opacity="${op}"` : ''}/>`;
  }
  function arc(cx, cy, rx, ry, a0, a1) {
    const out = [];
    for (let d = a0; d <= a1; d += 15) out.push([cx + rx * Math.cos(d * Math.PI / 180), cy + ry * Math.sin(d * Math.PI / 180)]);
    return out;
  }
  const root = document.getElementById('histology');
  let clipId = 0;
  function panel(name, x, y, w, h, bg, content, bar) {
    const g = mk('g', root, {});
    
    
    const id = 'hclip' + (clipId++);
    const cp = mk('clipPath', g, {id:id});
    mk('rect', cp, {x:x, y:y, width:w, height:h});
    const inner = mk('g', g, {'clip-path':`url(#${id})`});
    mk('rect', inner, {x:x, y:y, width:w, height:h, fill:bg});
    const body = mk('g', inner, {filter:'url(#organic)'});
    body.innerHTML = `<rect x="${x - 12}" y="${y - 12}" width="${w + 24}" height="${h + 24}" fill="${bg}"/>` + content;
    const fr = mk('rect', g, {x:x, y:y, width:w, height:h, fill:'none', stroke:'#151010', 'stroke-width':2.6});
    
    
    if (bar) {
      const sb = mk('line', g, {x1:bar[0], x2:bar[1], y1:bar[2], y2:bar[2], stroke:'#111', 'stroke-width':2.6});
      
      
    }
  }
  const BROWN = ['#6b3518','#84431f','#9a5c34','#b07a55'];
  const DARK = ['#54260f','#6b3518','#84431f','#7a3d1c'];
  const LIGHT = ['#a5714f','#c39d80','#8a5230'];
  const MIX = ['#6b3518','#84431f','#a5714f','#c39d80','#e7ddd2'];
  const NUC = '#7f7cbe';

  /* A1 normal mucosa */
  let s = scatter(150, 38, 150, 247, 413, NUC, 2.5, 4.6, 0.8);
  s += fibers([[190,240],[215,250],[240,230],[225,190],[240,160]], 30, 0.5, BROWN, 3, 10, 0.8, 2);
  s += fibers([[60,270],[100,265],[130,255],[200,280]], 30, 0.18, BROWN, 3, 9, 0.8, 1.8);
  s += crypt(115, 200, 87, 38, 0, 11, {gob:17});
  s += crypt(119, 295, 61, 37, 0, 10, {gob:17});
  s += crypt(190, 362, 57, 38, 0, 10, {gob:17});
  s += crypt(40, 395, 20, 22, 0, 7, {gob:0});
  s += fibers(arc(115, 200, 90, 41, 150, 375), 3, 0.25, DARK, 5, 14, 0.8, 1.5);
  s += fibers(arc(119, 295, 64, 40, 0, 200), 3, 0.25, DARK, 5, 14, 0.8, 1.5);
  s += fibers(arc(190, 362, 60, 41, -150, 120), 3, 0.25, DARK, 5, 14, 0.8, 1.5);
  s += fibers([[105,241],[130,237]], 5, 0.7, DARK, 8, 14, 1.5, 2.4);
  s += fibers([[200,195],[198,205]], 4, 2, DARK, 5, 8, 2, 3);
  s += fibers(arc(40, 395, 22, 24, -90, 60), 2, 0.4, DARK, 4, 9, 1, 1.6);
  panel('ihc-normal-mucosa-image', 38, 150, 208, 263, '#f7f3ef', s);

  /* A2 low grade */
  s = scatter(70, 254, 150, 463, 413, NUC, 2.5, 4.2, 0.7);
  s += crypt(385, 230, 120, 62, 8, 15, {gob:14, inner:'#dcd8ec', ring:'#a09dd2'});
  s += crypt(290, 300, 52, 62, 25, 14, {gob:12, inner:'#e6e2f0', ring:'#a8a5d6'});
  s += crypt(452, 372, 62, 72, 0, 14, {gob:14, inner:'#e8e4f0', ring:'#a09dd2'});
  s += crypt(302, 415, 68, 52, 0, 11, {gob:14, inner:'#ebe7f1', ring:'#b0add9'});
  s += band([[257,230],[313,268],[373,292],[462,295]], 6, '#e5d8cd', 0.9);
  s += band([[363,298],[367,338],[383,398],[387,413]], 9, '#e5d8cd', 0.9);
  s += fibers([[257,230],[313,268],[373,292],[462,295]], 7, 0.6, BROWN, 6, 16, 0.8, 1.7);
  s += fibers([[363,298],[367,338],[383,398],[387,415]], 8, 0.8, DARK, 8, 18, 1, 2.2);
  s += fibers([[377,322],[407,298]], 5, 0.6, DARK, 6, 14, 1, 1.8);
  s += fibers([[377,332],[413,413]], 3, 0.6, BROWN, 6, 14, 1, 1.6);
  s += fibers([[257,362],[347,355],[363,352]], 3, 0.5, LIGHT, 6, 14, 1, 1.5);
  s += fibers([[260,185],[293,165],[363,162],[462,168]], 6, 0.5, DARK, 7, 16, 0.8, 1.5);
  panel('ihc-low-grade-image', 254, 150, 209, 263, '#f4f0ec', s);

  /* A3 high grade */
  s = scatter(260, 469, 150, 679, 413, NUC, 2.5, 4.6, 0.5);
  s += ell(474, 300, 16, 55, '#efecf4');
  s += ell(490, 375, 18, 14, '#e9e6f2');
  s += ell(478, 190, 8, 20, '#f1eff6');
  s += poly([[522,150],[650,150],[672,205],[640,202],[600,196],[562,218],[535,240]], '#e6dedb');
  s += scatter(80, 525, 152, 662, 212, '#8986c4', 2.6, 4.4, 0.8);
  s += crypt(607, 303, 66, 95, 3, 24, {gob:12, inner:'#e4e0ef', ring:'#9a97ce'});
  s += ell(610, 305, 13, 40, '#ffffff', 1, 8);
  s += crypt(672, 398, 55, 58, 0, 20, {gob:13, inner:'#f0edf4', ring:'#a5a2d4'});
  s += ell(500, 410, 14, 8, '#f5f3f7');
  s += band([[522,155],[542,225],[542,278],[539,332],[512,372],[472,382]], 5, '#d8c4bc', 0.8);
  s += band([[572,218],[605,202],[645,208],[675,272],[675,305],[649,338],[605,385],[595,413]], 5, '#d8c4bc', 0.8);
  s += fibers([[522,155],[542,225],[542,278],[539,332],[512,372],[472,382]], 6, 0.45, BROWN, 5, 14, 0.9, 2);
  s += fibers([[572,218],[605,202],[645,208],[675,272],[675,305],[649,338],[605,385],[595,413]], 5, 0.35, BROWN, 5, 12, 0.8, 1.6);
  s += fibers([[472,382],[552,392],[575,408]], 4, 0.5, BROWN, 5, 14, 0.9, 1.8);
  s += fibers([[545,170],[590,160],[640,190]], 24, 0.25, DARK, 5, 14, 1, 2);
  panel('ihc-high-grade-image', 469, 150, 210, 263, '#a7a4d5', s);

  /* A4 adenocarcinoma */
  s = scatter(170, 686, 150, 895, 413, NUC, 2.5, 4.6, 0.42);
  s += crypt(705, 285, 47, 58, 0, 15, {gob:0, inner:'#f7f5f9', ring:'#aeabd8'});
  s += crypt(728, 185, 34, 40, 0, 14, {gob:0, inner:'#f6f4f8', ring:'#aeabd8'});
  s += ell(702, 155, 14, 8, '#f3f1f7');
  s += crypt(872, 280, 50, 82, 0, 14, {gob:0, inner:'#f8f7fa', ring:'#b5b2dc'});
  s += ell(838, 347, 16, 18, '#eeebf4');
  s += ell(792, 165, 7, 14, '#efedf4');
  s += ell(884, 188, 6, 8, '#efedf4');
  s += band([[689,192],[745,238],[782,278]], 16, '#d9c6b7');
  s += band([[769,152],[782,245]], 22, '#e2d3c7');
  s += band([[862,155],[812,228],[795,278]], 26, '#e0d0c3');
  s += band([[782,278],[789,332],[812,420]], 52, '#d8c3b4');
  s += band([[689,312],[722,345],[769,358]], 24, '#ccb09d');
  s += band([[689,410],[736,372],[769,358]], 20, '#d8c3b4');
  s += band([[829,385],[892,352]], 16, '#e2d3c7');
  s += fibers([[689,192],[745,238],[782,278]], 18, 1.3, DARK, 8, 22, 0.9, 2.1);
  s += fibers([[769,152],[782,245]], 20, 0.5, BROWN, 8, 20, 0.9, 2);
  s += fibers([[862,155],[812,228],[795,278]], 24, 0.9, DARK, 8, 22, 0.9, 2);
  s += fibers([[782,278],[789,332],[812,420]], 50, 1.9, MIX, 8, 24, 0.9, 2);
  s += fibers([[689,312],[722,345],[769,358]], 24, 2.2, DARK, 6, 18, 1, 2.2);
  s += fibers([[689,410],[736,372],[769,358]], 18, 0.9, BROWN, 6, 18, 1, 1.8);
  s += fibers([[829,385],[892,352]], 14, 0.6, BROWN, 6, 16, 1, 1.8);
  s += scatter(55, 762, 240, 822, 400, '#6a66ae', 2.6, 4.6, 0.75);
  panel('ihc-adenocarcinoma-image', 686, 150, 209, 263, '#b0add9', s, [829, 889, 410]);

  /* H left */
  const hTop = [[30,1562],[39,1565],[61,1562],[65,1578],[72,1562],[101,1560],[114,1565],[136,1548],[172,1548],[181,1578],[190,1590],[196,1585],[201,1552],[225,1548],[252,1557],[305,1588],[336,1615],[354,1658],[369,1675],[378,1680],[378,1795],[30,1795]];
  s = poly(hTop, 'url(#hTissue)');
  s += `<polyline points="${hTop.slice(0, 19).map(p => p.join(',')).join(' ')}" fill="none" stroke="#4f3c48" stroke-width="2.2"/>`;
  s += ell(172, 1708, 26, 70, '#6d6196', 0.55, -18);
  s += ell(114, 1750, 38, 40, '#7a6d9c', 0.5);
  s += ell(312, 1750, 32, 40, '#7a6d9c', 0.5);
  s += ell(48, 1750, 16, 36, '#7a6d9c', 0.5);
  s += scatter(300, 40, 1600, 368, 1786, '#665b8e', 1.8, 3.4, 0.35);
  [[121,1600],[136,1610],[176,1601],[203,1597],[194,1612],[187,1630],[216,1619],[249,1625],[263,1625],[314,1622],[314,1639],[283,1640],[212,1662],[225,1664],[209,1681],[236,1685],[247,1701],[289,1671],[274,1693],[291,1695],[300,1685],[291,1735],[318,1732],[320,1757],[59,1620],[79,1640],[90,1648],[103,1658],[65,1662],[79,1678],[101,1730],[121,1727],[112,1745],[121,1765],[163,1658],[152,1649],[43,1748]].forEach(p => {
    const r = 4 + R() * 3.5;
    s += ell(p[0], p[1], r, r * 1.15, '#ecebe0', 0.92);
  });
  const HD = ['#4d2f33','#5d3a3c','#6a4a45','#85686a'];
  s += fibers([[61,1587],[110,1645],[150,1735]], 6, 0.9, HD, 6, 16, 0.9, 2);
  s += fibers([[156,1598],[198,1695],[225,1762]], 5, 0.9, HD, 6, 16, 0.9, 1.9);
  s += fibers([[227,1592],[252,1658],[291,1735]], 5, 0.9, HD, 6, 16, 0.9, 1.9);
  s += fibers([[300,1658],[345,1742]], 5, 0.5, HD, 6, 14, 0.9, 1.7);
  s += band([[39,1698],[79,1748],[88,1790]], 5, '#dcd4c6');
  s += band([[322,1715],[367,1790]], 5, '#dcd4c6');
  s += band([[150,1740],[172,1790]], 4, '#d8cfc2');
  s += band([[225,1765],[245,1790]], 3, '#d8cfc2');
  s += scatter(24, 262, 1592, 285, 1612, '#352a58', 1.5, 3, 0.85);
  s += scatter(10, 252, 1594, 260, 1610, '#352a58', 1.5, 2.6, 0.85);
  s += scatter(16, 48, 1630, 66, 1650, '#352a58', 1.5, 3, 0.8);
  s += scatter(12, 265, 1645, 285, 1660, '#352a58', 1.5, 2.6, 0.8);
  s += scatter(10, 262, 1675, 272, 1690, '#352a58', 1.5, 2.6, 0.8);
  s += ell(167, 1766, 4, 10, '#43292d', 0.9, -20);
  panel('ihc-mouse-normal-image', 38, 1520, 332, 265, '#fbfbf9', s);

  /* H right */
  s = scatter(130, 385, 1530, 717, 1785, '#847ab6', 5, 10, 0.3);
  s += poly([[370,1510],[480,1510],[473,1522],[451,1552],[420,1572],[370,1590]], '#fbfbfa');
  s += `<polyline points="378,1590 420,1576 453,1556 480,1525" fill="none" stroke="#b79a90" stroke-width="10" opacity=".75"/>`;
  const net = [
    [[389,1688],[438,1675],[500,1625],[553,1578],[593,1532]],
    [[531,1662],[606,1635],[659,1615],[708,1532]],
    [[624,1645],[650,1662],[624,1722],[602,1782]],
    [[491,1538],[478,1615],[455,1658]],
    [[473,1672],[500,1722],[491,1772]],
    [[389,1778],[451,1732],[500,1715]],
    [[712,1722],[686,1778]],
    [[473,1672],[531,1662]]
  ];
  const widths = [32,18,14,10,22,22,10,24];
  const dens = [1.5,1.5,1,0.6,1.3,1,0.9,1.5];
  net.forEach((a, i) => { s += band(a, widths[i] * 0.7, '#a88a92', 0.85); });
  net.forEach((a, i) => { s += fibers(a, widths[i], dens[i], ['#5c2a14','#6d3218','#8a4a28','#7a3d20','#a5714f'], 5, 14, 0.9, 2); });
  s += fibers([[531,1662],[544,1688],[535,1722],[509,1738]], 2, 0.5, ['#8a4a28'], 5, 10, 1, 1.6);
  s += ell(420, 1690, 24, 20, '#6d3218', 0.5);
  s += ell(510, 1630, 30, 12, '#4e3559', 0.35, -50);
  s += ell(475, 1558, 7, 8, '#f1eef3');
  s += ell(478, 1668, 7, 8, '#ece4dc');
  s += ell(644, 1573, 9, 16, '#f4f3ee', 1, 10);
  s += ell(600, 1558, 10, 18, '#cdc8e0', 0.85, 10);
  s += ell(676, 1708, 14, 15, '#f6f6f1');
  s += ell(676, 1710, 3.5, 8, '#4c3a4e', 0.85);
  s += ell(591, 1712, 12, 16, '#f1eee9');
  s += ell(590, 1723, 15, 6, '#4c3a55', 0.85);
  s += ell(653, 1757, 5, 9, '#e8e3ea');
  s += ell(553, 1755, 10, 14, '#dcd6e6', 0.85);
  panel('ihc-mouse-tumor-image', 385, 1520, 332, 265, '#a69cca', s, [629, 708, 1778]);
})();
</script>
</body>
</html>
